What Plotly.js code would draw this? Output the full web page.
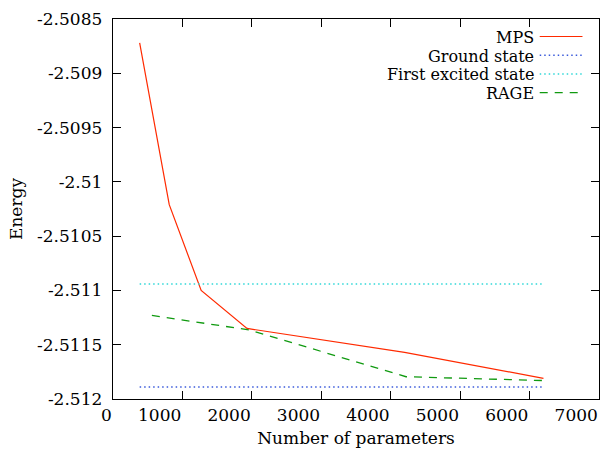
<!DOCTYPE html>
<html>
<head>
<meta charset="utf-8">
<script src="https://cdn.plot.ly/plotly-3.0.1.min.js"></script>
<style>html,body{margin:0;padding:0;background:#fff;}#chart{width:602px;height:455px;}</style>
</head>
<body>
<div id="chart"></div>
<script>
// ---- data ----
const seriesNames = ["MPS", "Ground state", "First excited state", "RAGE"];
const mpsParams = [384, 810, 1270, 1930, 4200, 6200];
const mpsEnergy = [-2.50872, -2.51021, -2.51100, -2.51135, -2.51157, -2.51181];
const rageParams = [560, 1970, 4220, 6200];
const rageEnergy = [-2.51123, -2.511365, -2.511795, -2.51183];
const refParams = [384, 6200];
const groundEnergy = [-2.51189, -2.51189];
const excitedEnergy = [-2.51094, -2.51094];
const xTickVals = [0, 1000, 2000, 3000, 4000, 5000, 6000, 7000];
const xTickText = ["0", "1000", "2000", "3000", "4000", "5000", "6000", "7000"];
const yTickVals = [-2.5085, -2.509, -2.5095, -2.51, -2.5105, -2.511, -2.5115, -2.512];
const yTickText = ["-2.5085", "-2.509", "-2.5095", "-2.51", "-2.5105", "-2.511", "-2.5115", "-2.512"];

// ---- styles ----
const FONT = "DejaVu Serif, serif";
const styles = [
  {color: "#ff2a00", width: 1.2, dash: "solid"},
  {color: "#3b5bdb", width: 1.5, dash: "1.5px,3px"},
  {color: "#30d8d8", width: 1.5, dash: "1.5px,3px"},
  {color: "#109a10", width: 1.3, dash: "8px,7px"}
];
const xs = [mpsParams, refParams, refParams, rageParams];
const ys = [mpsEnergy, groundEnergy, excitedEnergy, rageEnergy];

const traces = seriesNames.map((n, i) => ({
  type: "scatter", mode: "lines", name: n, x: xs[i], y: ys[i],
  line: {color: styles[i].color, width: styles[i].width, dash: styles[i].dash},
  showlegend: false
}));

// manual gnuplot-style legend: text on the left, sample on the right
const legendTextY = [0.9513, 0.9021, 0.8529, 0.8037];
const legendLineY = [0.9539, 0.9047, 0.8555, 0.8063];
const annotations = seriesNames.map((n, i) => ({
  xref: "paper", yref: "paper", x: 0.868, y: legendTextY[i],
  xanchor: "right", yanchor: "middle", showarrow: false, borderpad: 0,
  text: n, font: {family: FONT, size: 16, color: "#000"}
}));
const shapes = seriesNames.map((n, i) => ({
  type: "line", xref: "paper", yref: "paper",
  x0: 0.878, x1: 0.966, y0: legendLineY[i], y1: legendLineY[i],
  line: {color: styles[i].color, width: styles[i].width, dash: styles[i].dash}
}));

const layout = {
  width: 602, height: 455,
  margin: {l: 113, r: 3, t: 19, b: 56, pad: 0},
  paper_bgcolor: "#fff", plot_bgcolor: "#fff",
  font: {family: FONT, size: 17, color: "#000"},
  showlegend: false,
  xaxis: {
    range: [0, 7000], tickmode: "array", tickvals: xTickVals, ticktext: xTickText,
    ticks: "inside", ticklen: 8, tickcolor: "#000", tickwidth: 1,
    showline: true, linecolor: "#000", linewidth: 1.3, mirror: "allticks",
    showgrid: false, zeroline: false,
    ticklabelposition: "outside left",
    tickfont: {family: FONT, size: 17, color: "#000"},
    title: {text: "Number of parameters", font: {family: FONT, size: 17, color: "#000"}, standoff: 8},
    automargin: false
  },
  yaxis: {
    range: [-2.512, -2.5085], tickmode: "array", tickvals: yTickVals, ticktext: yTickText,
    ticks: "inside", ticklen: 8, tickcolor: "#000", tickwidth: 1,
    showline: true, linecolor: "#000", linewidth: 1.3, mirror: "allticks",
    showgrid: false, zeroline: false,
    tickfont: {family: FONT, size: 17, color: "#000"},
    ticklabelstandoff: 6,
    title: {text: "Energy", font: {family: FONT, size: 17, color: "#000"}, standoff: 10},
    automargin: false
  },
  annotations: annotations,
  shapes: shapes
};

Plotly.newPlot("chart", traces, layout, {displayModeBar: false, staticPlot: true});
</script>
</body>
</html>
